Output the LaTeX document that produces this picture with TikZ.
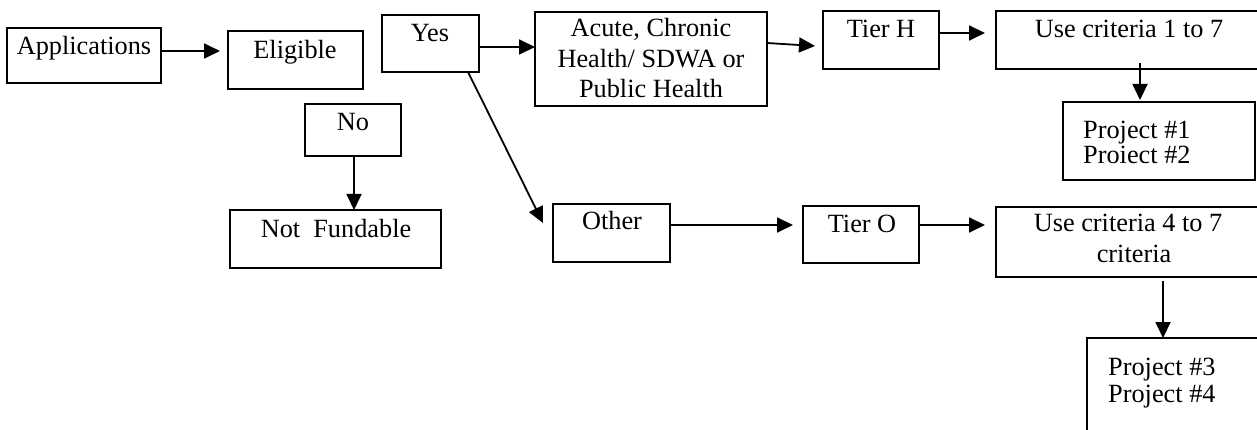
\documentclass[tikz,border=0pt]{standalone}
\usepackage{fontspec}
\setmainfont{Liberation Serif}
\usetikzlibrary{arrows.meta}
\begin{document}
\begin{tikzpicture}[x=1pt,y=-1pt,
  box/.style={draw, rectangle, line width=2pt, inner sep=0pt, outer sep=0pt},
  txt/.style={anchor=base, inner sep=0pt, font=\fontsize{26.3}{30}\selectfont},
  txtl/.style={anchor=base west, inner sep=0pt, font=\fontsize{26.3}{30}\selectfont},
  arr/.style={line width=1.8pt, -{Triangle[length=16pt,width=15pt]}}]
\clip (0,0) rectangle (1257,430);
\fill[white] (0,0) rectangle (1257,430);
% boxes
\node[box, minimum width=154pt, minimum height=55pt] (App) at (84,55.5) {};
\node[box, minimum width=135pt, minimum height=58pt] (Elig) at (295.5,60) {};
\node[box, minimum width=97pt, minimum height=57pt] (Yes) at (430.5,43.5) {};
\node[box, minimum width=232pt, minimum height=94pt] (Acute) at (651,59) {};
\node[box, minimum width=116pt, minimum height=58pt] (TierH) at (881,40) {};
\node[box, minimum width=304pt, minimum height=58pt] (Use1) at (1148,40) {};
\node[box, minimum width=192pt, minimum height=78pt] (Proj12) at (1159,141) {};
\node[box, minimum width=96pt, minimum height=52pt] (No) at (353,130) {};
\node[box, minimum width=211pt, minimum height=58pt] (NotF) at (335.5,239) {};
\node[box, minimum width=117pt, minimum height=58pt] (Other) at (611.5,233) {};
\node[box, minimum width=116pt, minimum height=57pt] (TierO) at (861,234.5) {};
\node[box, minimum width=304pt, minimum height=70pt] (Use4) at (1148,242) {};
\node[box, minimum width=213pt, minimum height=132pt] (Proj34) at (1193.5,404) {};
% texts
\node[txt] (tApp) at (84,55) {Applications};
\node[txt] (tElig) at (295,59) {Eligible};
\node[txt] (tYes) at (430,42) {Yes};
\node[txt] (tAc1) at (651,37) {Acute, Chronic};
\node[txt] (tAc2) at (651,68) {Health/ SDWA or};
\node[txt] (tAc3) at (651,98) {Public Health};
\node[txt] (tTH) at (881,38) {Tier H};
\node[txt] (tU1) at (1129,38) {Use criteria 1 to 7};
\node[txtl] (tP1) at (1083,139) {Project \#1};
\node[txtl] (tP2) at (1083,164) {Proiect \#2};
\node[txt] (tNo) at (353,131) {No};
\node[txt] (tNF) at (336,238) {Not\ \ Fundable};
\node[txt] (tOth) at (612,230) {Other};
\node[txt] (tTO) at (862,233) {Tier O};
\node[txt] (tU4a) at (1128,232) {Use criteria 4 to 7};
\node[txt] (tU4b) at (1134,262) {criteria};
\node[txtl] (tP3) at (1108,375) {Project \#3};
\node[txtl] (tP4) at (1108,402) {Project \#4};
% connectors
\draw[arr] ([yshift=4.5pt]App.east) -- ([xshift=-8pt,yshift=9pt]Elig.west);
\draw[arr] ([yshift=-3.5pt]Yes.east) -- ([yshift=12pt]Acute.west);
\draw[arr] ([yshift=16pt]Acute.east) -- ([xshift=-8pt,yshift=-6pt]TierH.west);
\draw[arr] ([yshift=7pt]TierH.east) -- ([xshift=-11pt,yshift=7pt]Use1.west);
\draw[arr] ([xshift=-8pt,yshift=6pt]Use1.south) -- ([xshift=-19pt,yshift=2pt]Proj12.north);
\draw[arr] ([xshift=1pt]No.south) -- ([xshift=18.5pt]NotF.north);
\draw[arr] ([xshift=37.5pt]Yes.south) -- ([xshift=-10pt,yshift=10pt]Other.west);
\draw[arr] ([yshift=8pt]Other.east) -- ([xshift=-10pt,yshift=9.5pt]TierO.west);
\draw[arr] ([yshift=9.5pt]TierO.east) -- ([xshift=-11pt,yshift=17pt]Use4.west);
\draw[arr] ([xshift=15pt,yshift=-4pt]Use4.south) -- ([xshift=-30.5pt]Proj34.north);
\end{tikzpicture}
\end{document}
